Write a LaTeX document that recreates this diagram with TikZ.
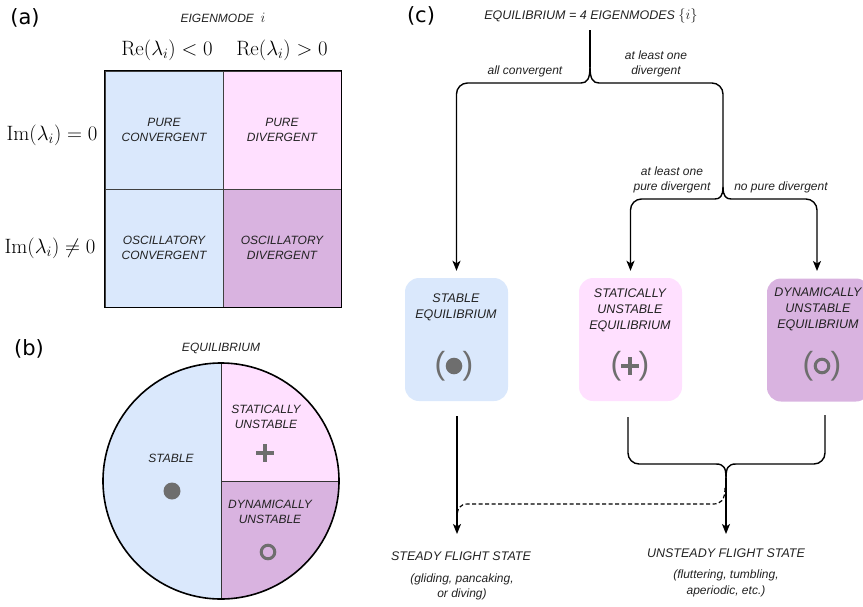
\documentclass[tikz,border=0pt]{standalone}
\usepackage[no-math]{fontspec}
\setmainfont{Liberation Sans}
\newfontfamily\labfont{DejaVu Sans}
\usetikzlibrary{arrows.meta}
\definecolor{cblue}{HTML}{DAE8FC}
\definecolor{cpink}{HTML}{FFE0FF}
\definecolor{cpurp}{HTML}{D9B3E0}
\definecolor{cgray}{HTML}{6E6E6E}
\definecolor{ctext}{HTML}{222222}
\begin{document}
\begin{tikzpicture}[x=1pt,y=-1pt,
  txt/.style={font=\fontsize{12}{15}\selectfont\itshape, text=ctext, align=center, inner sep=0pt},
  btxt/.style={font=\fontsize{12.5}{16}\selectfont\itshape, text=ctext, align=center, inner sep=0pt},
  mth/.style={font=\fontsize{19.5}{22}\selectfont, inner sep=0pt},
  panel/.style={font=\labfont\fontsize{21}{24}\selectfont, inner sep=0pt},
  cell/.style={draw=black!75, line width=0.8pt, minimum width=118pt, minimum height=118pt, inner sep=0pt,
     font=\fontsize{12}{15}\selectfont\itshape, text=ctext, align=center},
  eqbox/.style={rounded corners=14pt, minimum width=103pt, minimum height=123pt, inner sep=0pt},
  paren/.style={text=cgray, font=\fontsize{32}{32}\selectfont, inner sep=0pt},
  conn/.style={line width=1.4pt, rounded corners=11pt},
  curv/.style={line width=1.4pt},
  arr/.style={-{Stealth[length=10pt,width=8pt,inset=2.5pt]}},
  gsym/.style={cgray}
]
\useasboundingbox (0,0) rectangle (863,606);
\clip (0,0) rectangle (863,606);

% ---------------- panel (a)
\node[panel] (la) at (25,18) {(a)};
\node[txt] (eig) at (223,18) {EIGENMODE\ \ {\fontsize{15}{15}\selectfont$i$}};
\node[mth] (reneg) at (167,50) {$\mathrm{Re}(\lambda_i) < 0$};
\node[mth] (repos) at (282,50) {$\mathrm{Re}(\lambda_i) > 0$};
\node[mth] (imz) at (52,135) {$\mathrm{Im}(\lambda_i) = 0$};
\node[mth] (imnz) at (50,248) {$\mathrm{Im}(\lambda_i) \neq 0$};
\node[cell, fill=cblue] (pc) at (164,130) {PURE\\CONVERGENT};
\node[cell, fill=cpink] (pd) at (282,130) {PURE\\DIVERGENT};
\node[cell, fill=cblue] (oc) at (164,248) {OSCILLATORY\\CONVERGENT};
\node[cell, fill=cpurp] (od) at (282,248) {OSCILLATORY\\DIVERGENT};
\draw[line width=1.6pt] (pc.north west) rectangle (od.south east);

% ---------------- panel (b)
\node[panel] (lb) at (29,349) {(b)};
\node[txt] (eqb) at (221,348) {EQUILIBRIUM};
\coordinate (cc) at (221,481);
\begin{scope}
  \clip (cc) circle (118);
  \fill[cblue] (100,360) rectangle (221,602);
  \fill[cpink] (221,360) rectangle (342,481);
  \fill[cpurp] (221,481) rectangle (342,602);
\end{scope}
\draw[line width=0.9pt, black!80] (221,363) -- (221,599);
\draw[line width=0.9pt, black!80] (cc) -- (339,481);
\draw[line width=1.6pt] (cc) circle (118);
\node[txt] (stb) at (171,458) {STABLE};
\fill[gsym] (172,491) circle (8.5);
\node[txt] (stu) at (266,417) {STATICALLY\\UNSTABLE};
\draw[gsym, line width=3.3pt] (256,453) -- (274,453) (265,444) -- (265,462);
\node[txt] (dyu) at (270,512) {DYNAMICALLY\\UNSTABLE};
\draw[gsym, line width=3pt] (268,552) circle (6.8);

% ---------------- panel (c)
\node[panel] (lc) at (421,16) {(c)};
\node[btxt] (eqc) at (591,16) {EQUILIBRIUM = 4 EIGENMODES {\fontsize{15}{15}\selectfont$\{i\}$}};

\node[eqbox, fill=cblue] (stab) at (456.5,339.5) {};
\node[eqbox, fill=cpink] (stat) at (630.5,339.5) {};
\node[eqbox, fill=cpurp] (dyn) at (818.5,340) {};

\node[btxt] (stabt) at (456,307) {STABLE\\EQUILIBRIUM};
\node[btxt] (statt) at (630,310) {STATICALLY\\UNSTABLE\\EQUILIBRIUM};
\node[btxt] (dynt) at (818,309.5) {DYNAMICALLY\\UNSTABLE\\EQUILIBRIUM};

% symbols
\node[paren] (p1l) at (440,366) {(};
\node[paren] (p1r) at (468,366) {)};
\fill[gsym] (454,366) circle (8.3);
\node[paren] (p2l) at (616,366) {(};
\node[paren] (p2r) at (644,366) {)};
\draw[gsym, line width=3.3pt] (621,366) -- (639,366) (630,357) -- (630,375);
\node[paren] (p3l) at (808,366) {(};
\node[paren] (p3r) at (836,366) {)};
\draw[gsym, line width=3pt] (822,366) circle (6.8);

% labels on branches
\node[txt] (lall) at (525,71) {all convergent};
\node[txt] (lone) at (656,64) {at least one\\divergent};
\node[txt] (lpure) at (672,180) {at least one\\pure divergent};
\node[txt] (lnop) at (781,187) {no pure divergent};

% top brace
\coordinate (t0) at (590,30);
\coordinate (tb) at (590,67);
\coordinate (tl) at (581,83);
\coordinate (tr) at (599,83);
\draw[curv] (t0) -- (tb);
\draw[curv] (tb) .. controls (590,79) and (587,83) .. (tl);
\draw[curv] (tb) .. controls (590,79) and (593,83) .. (tr);
\draw[conn, arr, shorten >=7pt] (tl) -- (stab.north |- tl) -- (stab.north);
\coordinate (sb) at (723,187);
\draw[conn] (tr) -- (sb |- tr) -- (sb);
% sub brace
\coordinate (sl) at (715,199);
\coordinate (sr) at (731,199);
\draw[curv] (sb) .. controls (723,196) and (720,199) .. (sl);
\draw[curv] (sb) .. controls (723,196) and (726,199) .. (sr);
\draw[conn, arr, shorten >=7pt] (sl) -- (stat.north |- sl) -- (stat.north);
\draw[conn, arr, shorten >=7pt] (sr) -- (817,199) -- (817,278);

% bottom
\node[btxt] (steady) at (461,556) {STEADY FLIGHT STATE};
\node[txt, font=\fontsize{12}{15}\selectfont\itshape] (steadyd) at (462,586.5) {(gliding, pancaking,\\or diving)};
\node[btxt] (unsteady) at (726,553) {UNSTEADY FLIGHT STATE};
\node[txt, font=\fontsize{12}{16}\selectfont\itshape] (unsteadyd) at (726,583) {(fluttering, tumbling,\\aperiodic, etc.)};

\coordinate (s1) at (457,416);
\coordinate (m1) at (628,417);
\coordinate (m2) at (825,415);
\coordinate (mt) at (726,478);
\draw[conn, arr] (s1) -- (457,534);
\draw[conn] (m1) -- (628,464) -- (716,464);
\draw[curv] (716,464) .. controls (724,464) and (726,468) .. (mt);
\draw[conn] (m2) -- (825,464) -- (736,464);
\draw[curv] (736,464) .. controls (728,464) and (726,468) .. (mt);
\draw[curv, arr] (mt) -- (726,534);
\draw[line width=1.2pt, dash pattern=on 4pt off 2.5pt]
  (725,488) .. controls (725,500) and (721,504) .. (713,504) -- (468,504)
  .. controls (460,504) and (457,508) .. (457,518);
\end{tikzpicture}
\end{document}
